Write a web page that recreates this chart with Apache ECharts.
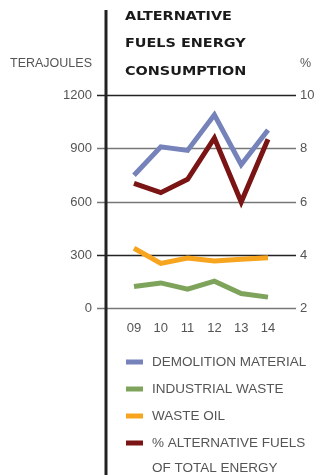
<!DOCTYPE html>
<html>
<head>
<meta charset="utf-8">
<script src="https://cdn.jsdelivr.net/npm/echarts@6/dist/echarts.min.js"></script>
<style>
  html, body { margin: 0; padding: 0; background: #fff; }
  #chart { width: 320px; height: 475px; }
</style>
</head>
<body>
<div id="chart"></div>
<script>
// Years on the category axis
const years = ['09', '10', '11', '12', '13', '14'];

// Terajoules (left axis)
const demolitionMaterial = [750, 910, 890, 1090, 810, 1005];
const industrialWaste = [125, 145, 110, 155, 85, 65];
const wasteOil = [340, 255, 285, 268, 278, 287];

// Share of alternative fuels in total energy, % (right axis)
const altFuelsShare = [6.7, 6.35, 6.85, 8.4, 6.0, 8.35];

// Axis ranges
const tjAxis = { min: 0, max: 1200, interval: 300 };
const pctAxis = { min: 2, max: 10, interval: 2 };

const seriesNames = ['DEMOLITION MATERIAL', 'INDUSTRIAL WASTE', 'WASTE OIL', '% ALTERNATIVE FUELS'];
const legendTail = 'OF TOTAL ENERGY';
const chartTitle = 'ALTERNATIVE\nFUELS ENERGY\nCONSUMPTION';
const colors = ['#7683ba', '#7ea45c', '#f7a41f', '#7b1515'];

const labelFont = 'Liberation Sans, Arial, sans-serif';
const txt = '#555';

const chart = echarts.init(document.getElementById('chart'));

const plotTop = 95.3;
const plotBottom = 475 - 308.7;

const lineSeries = (name, data, yIndex, color) => ({
  name, type: 'line', data,
  xAxisIndex: 1, yAxisIndex: yIndex,
  symbol: 'none', silent: true,
  lineStyle: { width: 5, color, cap: 'butt', join: 'miter' },
  itemStyle: { color }
});

chart.setOption({
  animation: false,
  legend: {
    orient: 'vertical', left: 126, top: 350.5, padding: 0,
    itemWidth: 17, itemHeight: 5, itemGap: 4,
    icon: 'rect',
    data: seriesNames,
    selectedMode: false,
    textStyle: { fontFamily: labelFont, fontSize: 13.5, color: txt, lineHeight: 23, padding: [0, 0, 0, 4] }
  },
  grid: [
    { left: 97, right: 24, top: plotTop, bottom: plotBottom },
    { left: 120.6, width: 160.8, top: plotTop, bottom: plotBottom }
  ],
  xAxis: [
    { type: 'category', gridIndex: 0, data: years, show: false },
    {
      type: 'category', gridIndex: 1, data: years, boundaryGap: true,
      axisLine: { show: false }, axisTick: { show: false },
      axisLabel: { fontFamily: labelFont, fontSize: 13, color: txt, margin: 13 }
    }
  ],
  yAxis: [
    {
      type: 'value', gridIndex: 0, position: 'left', ...tjAxis,
      name: 'TERAJOULES', nameLocation: 'end', nameGap: 25,
      nameTextStyle: { fontFamily: labelFont, fontSize: 12.5, color: txt, align: 'right', padding: [0, 5, 0, 0] },
      axisLine: { show: false }, axisTick: { show: false },
      axisLabel: { fontFamily: labelFont, fontSize: 13, color: txt, margin: 5, formatter: v => String(v) },
      splitLine: { show: true, lineStyle: { width: 1.3, color: ['#777', '#222', '#777', '#777', '#222'] } }
    },
    {
      type: 'value', gridIndex: 0, position: 'right', ...pctAxis,
      name: '%', nameLocation: 'end', nameGap: 25,
      nameTextStyle: { fontFamily: labelFont, fontSize: 12.5, color: txt, align: 'left', padding: [0, 0, 0, 4] },
      axisLine: { show: false }, axisTick: { show: false },
      axisLabel: { fontFamily: labelFont, fontSize: 13, color: txt, margin: 4, formatter: v => String(v) },
      splitLine: { show: false }
    },
    { type: 'value', gridIndex: 1, ...tjAxis, show: false },
    { type: 'value', gridIndex: 1, ...pctAxis, show: false }
  ],
  graphic: [
    {
      // heavy, widened title block
      type: 'text', x: 125, y: 3, scaleX: 1.2, silent: true,
      style: {
        text: chartTitle, fill: '#1a1a1a',
        font: 'bold 12px "DejaVu Sans"', lineHeight: 27.5,
        verticalAlign: 'top', align: 'left'
      }
    },
    {
      type: 'line', silent: true, z: 10,
      shape: { x1: 106, y1: 10, x2: 106, y2: 475 },
      style: { stroke: '#222', lineWidth: 3 }
    },
    {
      type: 'text', x: 152, y: 468, silent: true,
      style: { text: legendTail, font: '13.5px ' + labelFont, fill: txt, verticalAlign: 'middle' }
    }
  ],
  series: [
    lineSeries(seriesNames[0], demolitionMaterial, 2, colors[0]),
    lineSeries(seriesNames[1], industrialWaste, 2, colors[1]),
    lineSeries(seriesNames[2], wasteOil, 2, colors[2]),
    lineSeries(seriesNames[3], altFuelsShare, 3, colors[3])
  ]
});
</script>
</body>
</html>
